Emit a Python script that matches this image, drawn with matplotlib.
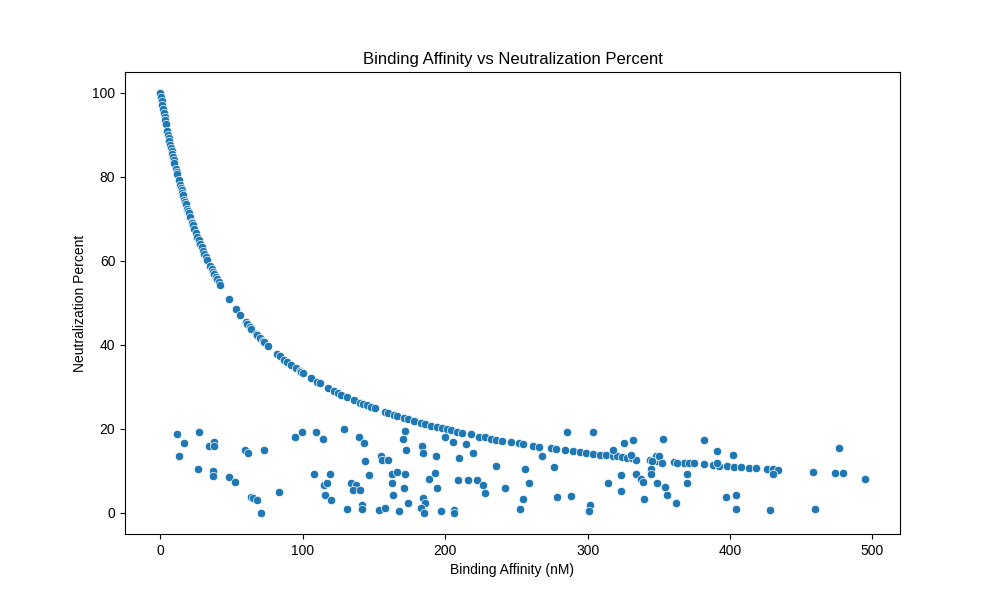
import numpy as np
import matplotlib
matplotlib.use("Agg")
import matplotlib.pyplot as plt
import seaborn as sns

# points lying on the saturation curve
curve_x = [0, 0.5, 1, 1.5, 2, 2.5, 3, 3.5, 4, 5, 5.5, 6, 6.5, 7, 7.5, 8, 8.5, 9, 9.5, 10,
           11, 11.5, 12, 13, 14, 14.5, 15, 15.5, 16, 17, 17.5, 18, 19, 19.5, 20, 21, 22,
           22.5, 23, 24, 25, 26, 27, 28, 29, 30, 31, 32, 33, 35, 36, 37, 38, 39, 40, 41,
           42, 48, 53, 56, 60, 61, 63, 64, 67, 68, 70, 72, 73, 76, 82, 84, 87, 89, 92, 95,
           98, 99, 100, 106, 110, 112, 118, 122, 125, 127, 131, 136, 140, 142, 145, 148,
           151, 158, 160, 164, 166, 171, 174, 178, 183, 186, 190, 194, 198, 201, 204, 208,
           212, 218, 224, 228, 232, 236, 240, 246, 252, 255, 262, 266, 274, 278, 284, 290,
           295, 299, 304, 309, 313, 318, 321, 324, 328, 331, 344, 349, 361, 368, 371, 375,
           382, 388, 392, 398, 403, 408, 413, 418, 426, 430, 434, 458, 474, 479]
curve_y = [100.0, 99.0, 98.0, 97.1, 96.2, 95.2, 94.3, 93.5, 92.6, 90.9, 90.1, 89.3, 88.5,
           87.7, 87.0, 86.2, 85.5, 84.7, 84.0, 83.3, 82.0, 81.3, 80.6, 79.4, 78.1, 77.5,
           76.9, 76.3, 75.8, 74.6, 74.1, 73.5, 72.5, 71.9, 71.4, 70.4, 69.4, 69.0, 68.5,
           67.6, 66.7, 65.8, 64.9, 64.1, 63.3, 62.5, 61.7, 61.0, 60.2, 58.8, 58.1, 57.5,
           56.8, 56.2, 55.6, 54.9, 54.3, 51.0, 48.5, 47.2, 45.5, 45.0, 44.2, 43.9, 42.7,
           42.4, 41.7, 41.0, 40.7, 39.7, 37.9, 37.3, 36.5, 36.0, 35.2, 34.5, 33.8, 33.6,
           33.3, 32.1, 31.3, 30.9, 29.8, 29.1, 28.6, 28.2, 27.6, 26.9, 26.3, 26.0, 25.6,
           25.3, 24.9, 24.0, 23.8, 23.4, 23.1, 22.6, 22.3, 21.9, 21.5, 21.2, 20.8, 20.5,
           20.2, 19.9, 19.7, 19.4, 19.1, 18.7, 18.2, 18.0, 17.7, 17.5, 17.2, 16.9, 16.6,
           16.4, 16.0, 15.8, 15.4, 15.2, 15.0, 14.7, 14.5, 14.3, 14.1, 13.9, 13.8, 13.6,
           13.5, 13.4, 13.2, 13.1, 12.7, 12.5, 12.2, 12.0, 11.9, 11.8, 11.6, 11.4, 11.3,
           11.2, 11.0, 10.9, 10.8, 10.7, 10.5, 10.4, 10.3, 9.8, 9.5, 9.5]

# scattered low-neutralization points
noise_x = [12.1, 16.4, 12.9, 26.9, 34.4, 37.4, 37.4, 59.6, 61.9, 72.5, 26.2, 36.7, 36.7,
           48.6, 52.8, 83.7, 63.8, 65.0, 68.2, 71.0, 94.9, 99.8, 109.6, 114.5, 129.2, 139.6,
           143.3, 155.2, 155.9, 159.7, 144.0, 108.2, 119.4, 146.8, 115.0, 117.3, 116.0, 120.1,
           133.9, 137.7, 135.6, 140.3, 131.4, 141.9, 141.9, 153.8, 158.0, 171.8, 170.6, 183.9,
           184.6, 172.5, 193.8, 200.1, 205.7, 214.8, 209.9, 219.7, 162.9, 166.4, 171.8, 162.9,
           171.3, 163.6, 193.1, 188.9, 194.5, 209.2, 216.2, 222.5, 226.7, 228.1, 235.8, 242.2,
           174.1, 184.6, 186.0, 182.8, 185.3, 167.8, 197.1, 206.4, 206.4, 256.2, 259.0, 254.8,
           252.7, 268.1, 276.5, 278.7, 288.4, 285.6, 303.9, 301.5, 301.1, 318.2, 325.6, 331.9,
           334.3, 314.4, 323.5, 323.5, 334.0, 353.0, 381.7, 476.4, 330.3, 348.3, 350.2, 345.2,
           352.2, 362.8, 390.8, 402.0, 390.8, 333.8, 337.8, 338.9, 344.5, 344.5, 348.7, 354.4,
           355.8, 339.6, 362.1, 369.8, 369.8, 397.1, 404.1, 404.1, 428.0, 459.5, 430.1, 494.6]
noise_y = [18.7, 16.6, 13.5, 19.4, 15.9, 16.8, 16.0, 15.1, 14.4, 14.9, 10.4, 10.1, 8.9,
           8.5, 7.5, 5.1, 3.7, 3.5, 3.0, 0.0, 18.0, 19.4, 19.2, 17.7, 19.9, 18.0,
           16.6, 13.5, 12.7, 12.7, 12.3, 9.4, 9.4, 9.0, 6.6, 7.1, 4.4, 3.0,
           7.1, 6.6, 5.4, 5.4, 0.9, 1.9, 0.9, 0.6, 1.1, 19.6, 17.7, 16.0,
           14.4, 14.9, 13.5, 18.0, 17.0, 16.4, 13.0, 14.2, 9.4, 9.7, 9.3, 7.1,
           5.9, 4.4, 9.5, 8.2, 5.9, 7.8, 7.8, 7.8, 6.7, 4.8, 11.2, 5.9,
           2.4, 3.5, 2.4, 1.1, 0.0, 0.4, 0.5, 0.8, 0.0, 10.4, 7.1, 3.3,
           0.9, 13.5, 10.9, 3.7, 4.0, 19.2, 19.2, 1.8, 0.4, 14.9, 16.6, 17.3,
           12.7, 7.1, 9.0, 5.2, 9.3, 17.7, 17.5, 15.4, 13.9, 13.6, 13.6, 12.5,
           12.0, 12.0, 14.7, 13.7, 12.0, 9.2, 8.2, 7.5, 10.5, 9.4, 7.1, 6.3,
           4.2, 3.3, 2.5, 9.4, 7.1, 3.7, 4.4, 0.9, 0.6, 0.9, 9.4, 8.0]

affinity = np.array(curve_x + noise_x)
neutral = np.array(curve_y + noise_y)

plt.rcParams["font.family"] = ["Liberation Sans", "DejaVu Sans"]

fig, ax = plt.subplots(figsize=(10, 6), dpi=100)
sns.scatterplot(x=affinity, y=neutral, ax=ax, color="#1f77b4")
ax.set_title("Binding Affinity vs Neutralization Percent")
ax.set_xlabel("Binding Affinity (nM)")
ax.set_ylabel("Neutralization Percent")
fig.savefig("out.png", dpi=100)
